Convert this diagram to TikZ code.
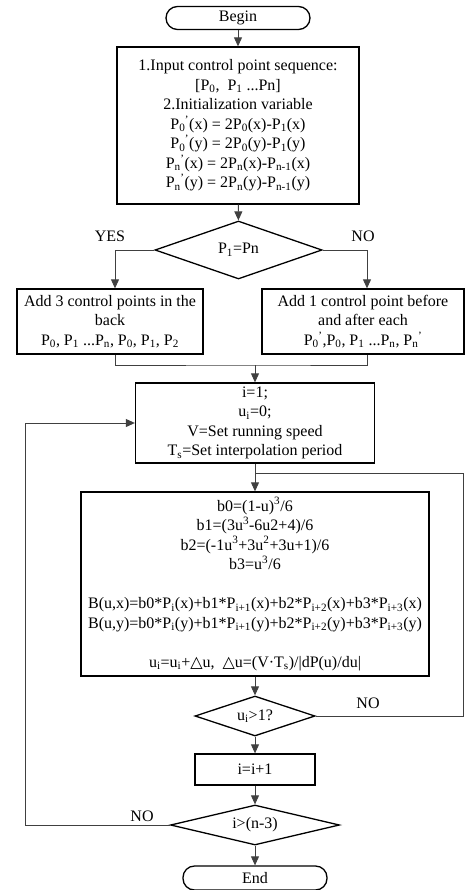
\documentclass[tikz,border=0pt]{standalone}
\usepackage{fontspec}
\setmainfont{Liberation Serif}
\newfontfamily\symf{DejaVu Sans}
\usetikzlibrary{shapes.geometric,arrows.meta}
\newcommand{\Pq}[1]{P\textsubscript{#1}\kern-0.5pt\textsuperscript{'}}

\begin{document}
\begin{tikzpicture}[x=1pt, y=-1pt, font=\fontsize{16}{19.5}\selectfont,
  box/.style={draw, line width=1.3pt, align=center, inner sep=0pt},
  term/.style={box, rounded corners=11.5pt, minimum width=144pt, minimum height=23pt},
  test/.style={draw, line width=1.3pt, diamond, aspect=3, inner sep=0pt},
  link/.style={draw=black!75, line width=0.9pt},
  arr/.style={link, -{Triangle[length=9pt,width=8pt]}}]
  \useasboundingbox (0,0) rectangle (466,890);

  \node[term] (begin) at (238,18) {Begin};
  \node[box, minimum width=242pt, minimum height=157pt] (input) at (238,125.5)
    {1.Input control point sequence:\\
     {[}P\textsubscript{0},\ \ P\textsubscript{1} ...Pn]\\
     2.Initialization variable\\
     \Pq{0}(x) = 2P\textsubscript{0}(x)-P\textsubscript{1}(x)\\
     \Pq{0}(y) = 2P\textsubscript{0}(y)-P\textsubscript{1}(y)\\
     \Pq{n}(x) = 2P\textsubscript{n}(x)-P\textsubscript{n-1}(x)\\
     \Pq{n}(y) = 2P\textsubscript{n}(y)-P\textsubscript{n-1}(y)};
  \node[test, minimum width=167pt, minimum height=58pt] (check) at (238.5,250)
    {P\textsubscript{1}=Pn};
  \node[box, minimum width=186pt, minimum height=65pt] (addback) at (110,321.5)
    {Add 3 control points in the\\ back\\
     P\textsubscript{0}, P\textsubscript{1} ...P\textsubscript{n}, P\textsubscript{0}, P\textsubscript{1}, P\textsubscript{2}};
  \node[box, minimum width=202pt, minimum height=65pt] (addeach) at (363,321.5)
    {Add 1 control point before\\ and after each\\
     \Pq{0},P\textsubscript{0}, P\textsubscript{1} ...P\textsubscript{n}, \Pq{n}};
  \node[box, minimum width=239pt, minimum height=80pt] (init) at (255,423)
    {i=1;\\ u\textsubscript{i}=0;\\ V=Set running speed\\ T\textsubscript{s}=Set interpolation period};
  \node[box, minimum width=348pt, minimum height=184pt] (calc) at (255,584)
    {b0=(1-u)\textsuperscript{3}/6\\
     b1=(3u\textsuperscript{3}-6u2+4)/6\\
     b2=(-1u\textsuperscript{3}+3u\textsuperscript{2}+3u+1)/6\\
     b3=u\textsuperscript{3}/6\\[19.5pt]
     B(u,x)=b0*P\textsubscript{i}(x)+b1*P\textsubscript{i+1}(x)+b2*P\textsubscript{i+2}(x)+b3*P\textsubscript{i+3}(x)\\
     B(u,y)=b0*P\textsubscript{i}(y)+b1*P\textsubscript{i+1}(y)+b2*P\textsubscript{i+2}(y)+b3*P\textsubscript{i+3}(y)\\[19.5pt]
     u\textsubscript{i}=u\textsubscript{i}+{\symf △}u,\ \ {\symf △}u=(V·T\textsubscript{s})/|dP(u)/du|};
  \node[test, minimum width=120pt, minimum height=40pt] (check2) at (255,716)
    {u\textsubscript{i}>1?};
  \node[box, minimum width=120pt, minimum height=31pt] (incr) at (255,769.5) {i=i+1};
  \node[test, minimum width=169pt, minimum height=40pt] (check3) at (255,825) {i>(n-3)};
  \node[term, minimum height=24pt] (end) at (255,878) {End};

  \node (yes) at (110,236) {YES};
  \node (no1) at (363,236) {NO};
  \node (no2) at (368,703) {NO};
  \node (no3) at (142,816) {NO};

  \coordinate (join) at (255,365);
  \coordinate (edge) at (463,716);
  \coordinate (merge) at (255,473);
  \coordinate (back) at (25,825);

  \draw[arr] (begin) -- (input);
  \draw[arr] (input) -- (check);
  \draw[arr] (check.west) -| ([xshift=5pt]addback.north);
  \draw[arr] (check.east) -| ([xshift=4pt]addeach.north);
  \draw[link] ([xshift=5pt]addback.south) |- (join) -| ([xshift=4pt]addeach.south);
  \draw[arr] (join) -- (init.north);
  \draw[arr] (init) -- (calc);
  \draw[link] (check2.east) -- (edge) |- (merge);
  \draw[arr] (calc) -- (check2);
  \draw[arr] (check2) -- (incr);
  \draw[arr] (incr) -- (check3);
  \draw[arr] (check3) -- (end);
  \draw[arr] (check3.west) -- (back) |- (init.west);
\end{tikzpicture}
\end{document}
